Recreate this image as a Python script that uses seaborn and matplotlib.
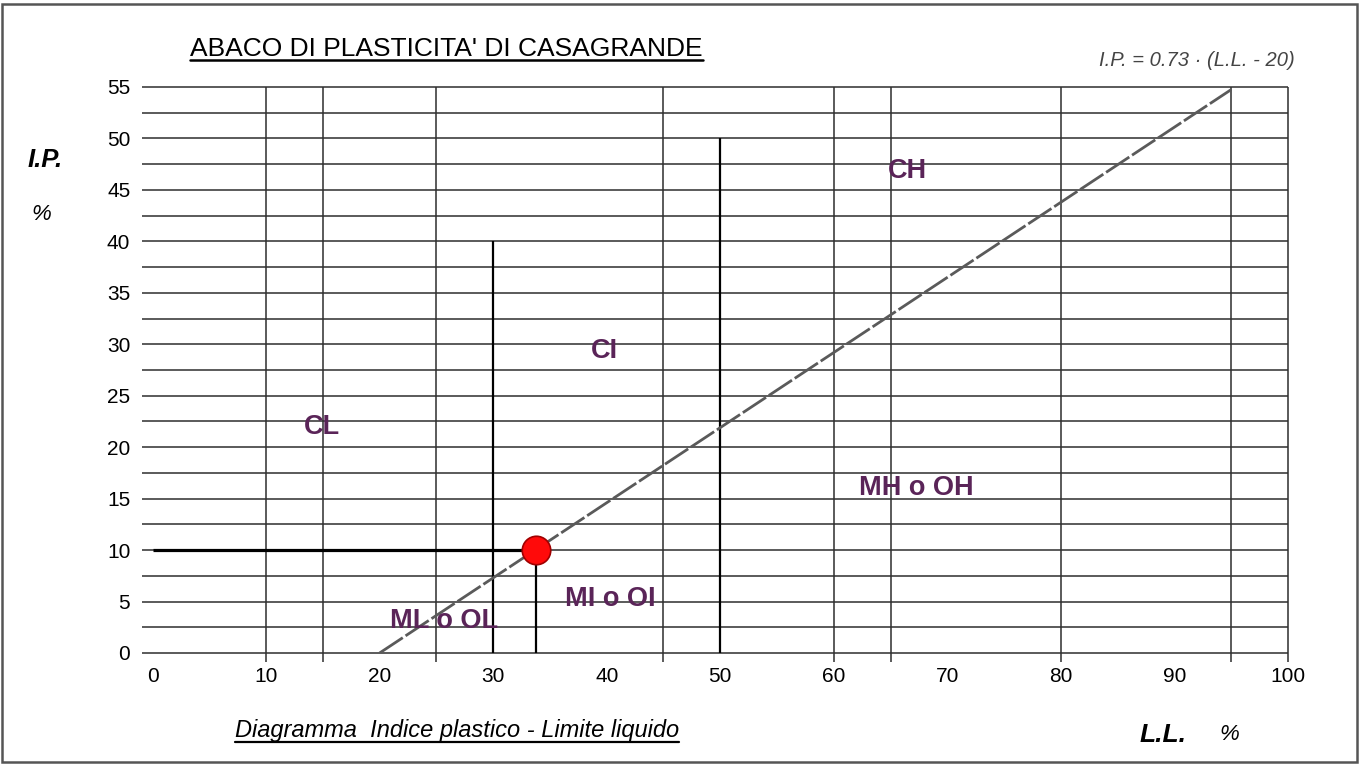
import numpy as np
import pandas as pd
import matplotlib
matplotlib.use("Agg")
import matplotlib.pyplot as plt
from matplotlib.lines import Line2D
from matplotlib.patches import Rectangle
import seaborn as sns

# Axis ticks
ll_ticks = [0, 10, 20, 30, 40, 50, 60, 70, 80, 90, 100]
ip_ticks = [0, 5, 10, 15, 20, 25, 30, 35, 40, 45, 50, 55]

# Grid of the chart
grid_ip = [0, 2.5, 5, 7.5, 10, 12.5, 15, 17.5, 20, 22.5, 25, 27.5, 30,
           32.5, 35, 37.5, 40, 42.5, 45, 47.5, 50, 52.5, 55]
grid_ll = [10, 15, 25, 45, 60, 65, 80, 95, 100]

# Field dividers (liquid limit, top of the divider)
divider_ll = [30, 50]
divider_top = [40, 50]

# A-line: I.P. = 0.73 (L.L. - 20)
a_slope = 0.73
a_offset = 20
a_ll = [20, 95]

# Sample point
sample_ll = [33.8]
sample_ip = [10]

# Soil classification zones
zone_names = ["CH", "CI", "CL", "MH o OH", "MI o OI", "ML o OL"]
zone_ll = [66.5, 39.8, 14.9, 67.3, 40.3, 25.7]
zone_ip = [46.8, 29.3, 22.0, 16.0, 5.2, 3.1]

sns.set_theme(style="white")
plt.rcParams["font.family"] = ["Liberation Sans", "DejaVu Sans"]

W, H, DPI = 1359, 764, 100
fig = plt.figure(figsize=(W / DPI, H / DPI), dpi=DPI)
fig.patch.set_facecolor("white")

x0, x1 = 152.5, 1288.0
y0, y1 = 653.0, 87.0
ax = fig.add_axes([x0 / W, (H - y0) / H, (x1 - x0) / W, (y0 - y1) / H])
ax.set_xlim(0, 100)
ax.set_ylim(0, 55)
ax.set_facecolor("white")
for s in ax.spines.values():
    s.set_visible(False)

grid_col = "#2e2e2e"
ax.hlines(grid_ip, -0.9, 100, colors=grid_col, lw=1.1, clip_on=False, zorder=1)
ax.vlines(grid_ll, -0.9, 55, colors=grid_col, lw=1.1, clip_on=False, zorder=1)
ax.vlines(divider_ll, 0, divider_top, colors="black", lw=1.6, zorder=2)

# A-line
a_df = pd.DataFrame({"LL": a_ll, "IP": [a_slope * (v - a_offset) for v in a_ll]})
sns.lineplot(data=a_df, x="LL", y="IP", ax=ax, color="#5a5a5a", lw=2.0, zorder=3)
ax.lines[-1].set_dashes([10, 1.2])

# Reference lines to the sample point
ax.hlines(sample_ip, 0, sample_ll, colors="black", lw=2.3, zorder=4)
ax.vlines(sample_ll, 0, sample_ip, colors="black", lw=1.6, zorder=4)

pt_df = pd.DataFrame({"LL": sample_ll, "IP": sample_ip})
sns.scatterplot(data=pt_df, x="LL", y="IP", ax=ax, s=420, color="#ff0a0a",
                edgecolor="#a00000", linewidth=1.2, zorder=5, legend=False)

zone_col = "#5a2458"
for name, lx, ly in zip(zone_names, zone_ll, zone_ip):
    ax.text(lx, ly, name, ha="center", va="center", fontsize=19.5,
            fontweight="bold", color=zone_col, zorder=6)

ax.set_xticks(ll_ticks)
ax.set_yticks(ip_ticks)
ax.set_xticklabels([str(v) for v in ll_ticks])
ax.set_yticklabels([str(v) for v in ip_ticks])
ax.tick_params(axis="x", length=0, pad=10, labelsize=15, labelcolor="black")
ax.tick_params(axis="y", length=0, pad=16, labelsize=15, labelcolor="black")
ax.set_xlabel("")
ax.set_ylabel("")

# Titles and captions
title = fig.text(190 / W, 1 - 49 / H, "ABACO DI PLASTICITA' DI CASAGRANDE",
                 ha="left", va="center", fontsize=19, color="black")
caption = fig.text(457 / W, 1 - 731 / H, "Diagramma  Indice plastico - Limite liquido",
                   ha="center", va="center", fontsize=17, style="italic", color="black")
fig.text(1295 / W, 1 - 60 / H, "I.P. = 0.73 · (L.L. - 20)", ha="right", va="center",
         fontsize=14.5, style="italic", color="#444444")
fig.text(28 / W, 1 - 160 / H, "I.P.", ha="left", va="center", fontsize=18.5,
         style="italic", fontweight="bold", color="black")
fig.text(31 / W, 1 - 215 / H, "%", ha="left", va="center", fontsize=16,
         style="italic", color="black")
fig.text(1140 / W, 1 - 735 / H, "L.L.", ha="left", va="center", fontsize=19,
         style="italic", fontweight="bold", color="black")
fig.text(1219 / W, 1 - 735 / H, "%", ha="left", va="center", fontsize=16,
         style="italic", color="black")

# Underline the title and the caption
fig.canvas.draw()
renderer = fig.canvas.get_renderer()
for t, lw in ((title, 1.8), (caption, 1.6)):
    bb = t.get_window_extent(renderer)
    yline = bb.y0 + 1
    fig.add_artist(Line2D([bb.x0 / W, bb.x1 / W], [yline / H, yline / H],
                          transform=fig.transFigure, color="black", lw=lw))

# Outer frame
fig.add_artist(Rectangle((2 / W, 2 / H), (W - 4) / W, (H - 6) / H,
                         transform=fig.transFigure, fill=False,
                         edgecolor="#555555", lw=1.8))

fig.savefig("out.png", dpi=DPI, facecolor="white")
